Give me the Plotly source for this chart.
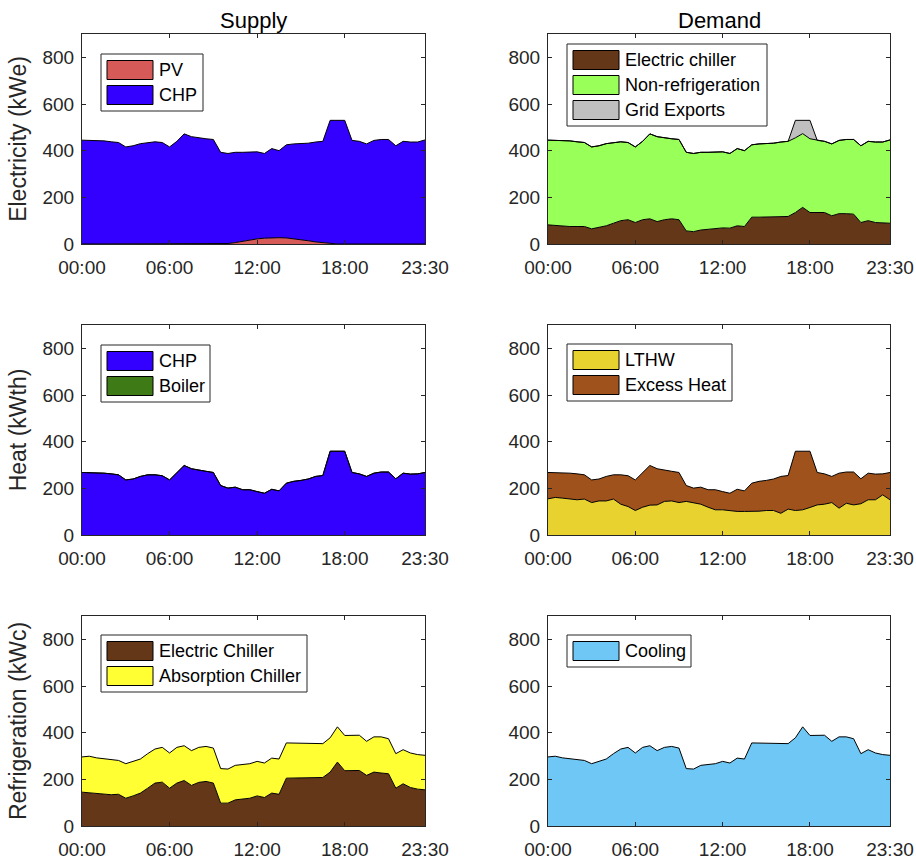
import plotly.graph_objects as go

# Half-hourly time stamps for one day
times = [f"{h:02d}:{m:02d}" for h in range(24) for m in (0, 30)]
tick_labels = ["00:00", "06:00", "12:00", "18:00", "23:30"]
y_ticks = [0, 200, 400, 600, 800]

# ---- Electricity (kWe) ----
pv = [0] * 19 + [0, 2, 6, 12, 17, 22, 25, 27, 27, 26, 23, 19, 14, 9, 5, 2, 0] + [0] * 12
chp_elec = [445, 445, 445, 442, 438, 435, 416, 421, 430, 435,
            438, 435, 416, 440, 472, 460, 454, 451, 448, 393,
            386, 387, 381, 376, 373, 363, 382, 373, 399, 406,
            410, 418, 428, 435, 528, 530, 530, 444, 440, 429,
            444, 448, 448, 421, 440, 437, 437, 446]
elec_chiller = [82, 79, 78, 75, 75, 75, 65, 72, 78, 89,
                100, 104, 92, 104, 108, 96, 104, 108, 104, 56,
                53, 60, 63, 65, 69, 68, 78, 75, 115, 115,
                115, 115, 115, 118, 135, 157, 135, 135, 135, 121,
                130, 130, 128, 92, 100, 92, 89, 89]
non_refrigeration = [363, 366, 367, 367, 363, 360, 351, 349, 352, 346,
                     338, 331, 324, 336, 364, 364, 350, 343, 344, 337,
                     335, 333, 330, 328, 326, 320, 331, 325, 310, 314,
                     314, 317, 322, 322, 320, 316, 316, 309, 305, 308,
                     314, 318, 320, 329, 340, 345, 348, 357]
grid_exports = [0] * 34 + [75, 57, 79] + [0] * 11

# ---- Heat (kWth) ----
chp_heat = [268, 268, 268, 265, 262, 258, 236, 240, 251, 258,
            258, 254, 236, 265, 298, 284, 277, 273, 268, 212,
            201, 205, 194, 194, 186, 179, 196, 189, 222, 230,
            234, 240, 251, 255, 359, 359, 359, 268, 262, 251,
            265, 270, 270, 241, 265, 261, 262, 268]
boiler = [0] * 48
lthw = [155, 161, 158, 154, 151, 154, 139, 146, 146, 154,
        132, 122, 105, 119, 128, 129, 144, 146, 139, 144,
        139, 132, 119, 108, 108, 103, 101, 101, 101, 102,
        105, 105, 93, 111, 105, 108, 118, 129, 132, 139,
        115, 136, 129, 134, 151, 151, 172, 151]
excess_heat = [113, 107, 110, 111, 111, 104, 97, 94, 105, 104,
               126, 132, 131, 146, 170, 155, 133, 127, 129, 68,
               62, 73, 75, 86, 78, 76, 95, 88, 121, 128,
               129, 135, 158, 144, 254, 251, 241, 139, 130, 112,
               150, 134, 141, 107, 114, 110, 90, 117]

# ---- Refrigeration (kWc) ----
chiller_cooling = [145, 143, 141, 137, 134, 136, 119, 129, 141, 162,
                   184, 188, 162, 184, 195, 174, 187, 191, 184, 98,
                   98, 112, 115, 119, 129, 122, 141, 136, 205, 205,
                   205, 205, 205, 208, 231, 274, 237, 238, 238, 217,
                   231, 227, 224, 162, 181, 165, 158, 155]
absorption_cooling = [151, 156, 151, 152, 150, 145, 148, 148, 146, 148,
                      146, 149, 151, 153, 149, 149, 150, 150, 150, 148,
                      146, 148, 148, 148, 148, 148, 150, 151, 151, 151,
                      151, 151, 151, 145, 147, 151, 151, 150, 151, 146,
                      151, 155, 150, 148, 146, 148, 148, 148]
cooling_demand = [296, 299, 292, 289, 284, 281, 267, 277, 287, 310,
                  330, 337, 313, 337, 344, 323, 337, 341, 334, 246,
                  244, 260, 263, 267, 277, 270, 291, 287, 356, 356,
                  356, 356, 356, 353, 378, 425, 388, 388, 389, 363,
                  382, 382, 374, 310, 327, 313, 306, 303]

col_titles = ["Supply", "Demand"]
row_titles = ["Electricity (kWe)", "Heat (kWth)", "Refrigeration (kWc)"]

# (row, col, [(name, values, colour)], legend box left px, legend box top px, legend box width px)
panels = [
    (0, 0, [("PV", pv, "#D65A57"), ("CHP", chp_elec, "#3300FF")], 101, 54, 102),
    (0, 1, [("Electric chiller", elec_chiller, "#653719"),
            ("Non-refrigeration", non_refrigeration, "#99FF59"),
            ("Grid Exports", grid_exports, "#BFBFBF")], 567, 44, 200),
    (1, 0, [("CHP", chp_heat, "#3300FF"), ("Boiler", boiler, "#3E7B17")], 101, 345, 109),
    (1, 1, [("LTHW", lthw, "#E8D22F"), ("Excess Heat", excess_heat, "#A0521C")], 567, 344, 165),
    (2, 0, [("Electric Chiller", chiller_cooling, "#653719"),
            ("Absorption Chiller", absorption_cooling, "#FFFF33")], 101, 635, 206),
    (2, 1, [("Cooling", cooling_demand, "#6FC7F5")], 567, 635, 124),
]

W, H = 916, 860
col_px = [(82, 425), (548, 890)]
row_px = [(34, 244), (325, 535), (616, 826)]
AX = "#262626"
FONT = "Liberation Sans, Arial, Helvetica, sans-serif"


def px(x):
    return x / W


def py(y):
    return 1 - y / H


fig = go.Figure()
layout = dict(width=W, height=H, margin=dict(l=0, r=0, t=0, b=0),
              paper_bgcolor="white", plot_bgcolor="white", showlegend=False,
              template="none", font=dict(family=FONT, color=AX))
shapes, annotations = [], []

for k, (r, c, series, lx, ly, lw) in enumerate(panels):
    n = k + 1
    xa = "x" if n == 1 else f"x{n}"
    ya = "y" if n == 1 else f"y{n}"
    for name, vals, color in series:
        fig.add_trace(go.Scatter(
            x=times, y=vals, name=name, xaxis=xa, yaxis=ya,
            mode="lines", stackgroup=f"s{n}", fillcolor=color,
            line=dict(color="black", width=1), hoverinfo="x+y+name"))
    x0, x1 = col_px[c]
    y0, y1 = row_px[r]
    xkey = "xaxis" if n == 1 else f"xaxis{n}"
    ykey = "yaxis" if n == 1 else f"yaxis{n}"
    layout[xkey] = dict(
        domain=[px(x0), px(x1)], anchor=ya, type="category",
        range=[0, len(times) - 1], tickmode="array", tickvals=tick_labels,
        ticktext=tick_labels, ticks="inside", ticklen=4, tickcolor=AX,
        showline=True, linecolor=AX, linewidth=1, mirror="ticks",
        showgrid=False, zeroline=False, automargin=False,
        ticklabelstandoff=6,
        tickfont=dict(family=FONT, size=19, color=AX))
    layout[ykey] = dict(
        domain=[py(y1), py(y0)], anchor=xa, range=[0, 900],
        tickmode="array", tickvals=y_ticks, ticks="inside", ticklen=4,
        tickcolor=AX, showline=True, linecolor=AX, linewidth=1,
        mirror="ticks", showgrid=False, zeroline=False, automargin=False,
        ticklabelstandoff=3,
        tickfont=dict(family=FONT, size=19, color=AX))
    if c == 0:
        layout[ykey]["title"] = dict(text=row_titles[r], standoff=9,
                                     font=dict(family=FONT, size=23, color=AX))

    # legend box with swatches
    nitems = len(series)
    box_h = 32 + 25 * (nitems - 1)
    shapes.append(dict(type="rect", xref="paper", yref="paper",
                       x0=px(lx), x1=px(lx + lw), y0=py(ly + box_h), y1=py(ly),
                       fillcolor="white", line=dict(color=AX, width=1)))
    for j, (name, _, color) in enumerate(series):
        cy = ly + 16 + 25 * j
        shapes.append(dict(type="rect", xref="paper", yref="paper",
                           x0=px(lx + 6), x1=px(lx + 52),
                           y0=py(cy + 9.5), y1=py(cy - 9.5),
                           fillcolor=color, line=dict(color="black", width=1)))
        annotations.append(dict(text=name, xref="paper", yref="paper",
                                x=px(lx + 56), y=py(cy), xanchor="left",
                                yanchor="middle", showarrow=False,
                                font=dict(family=FONT, size=18, color="black")))

for c, title in enumerate(col_titles):
    x0, x1 = col_px[c]
    annotations.append(dict(text=title, xref="paper", yref="paper",
                            x=px((x0 + x1) / 2), y=py(21), xanchor="center",
                            yanchor="middle", showarrow=False,
                            font=dict(family=FONT, size=22, color="black")))

layout["shapes"] = shapes
layout["annotations"] = annotations
fig.update_layout(**layout)
fig.write_html("out.html")
